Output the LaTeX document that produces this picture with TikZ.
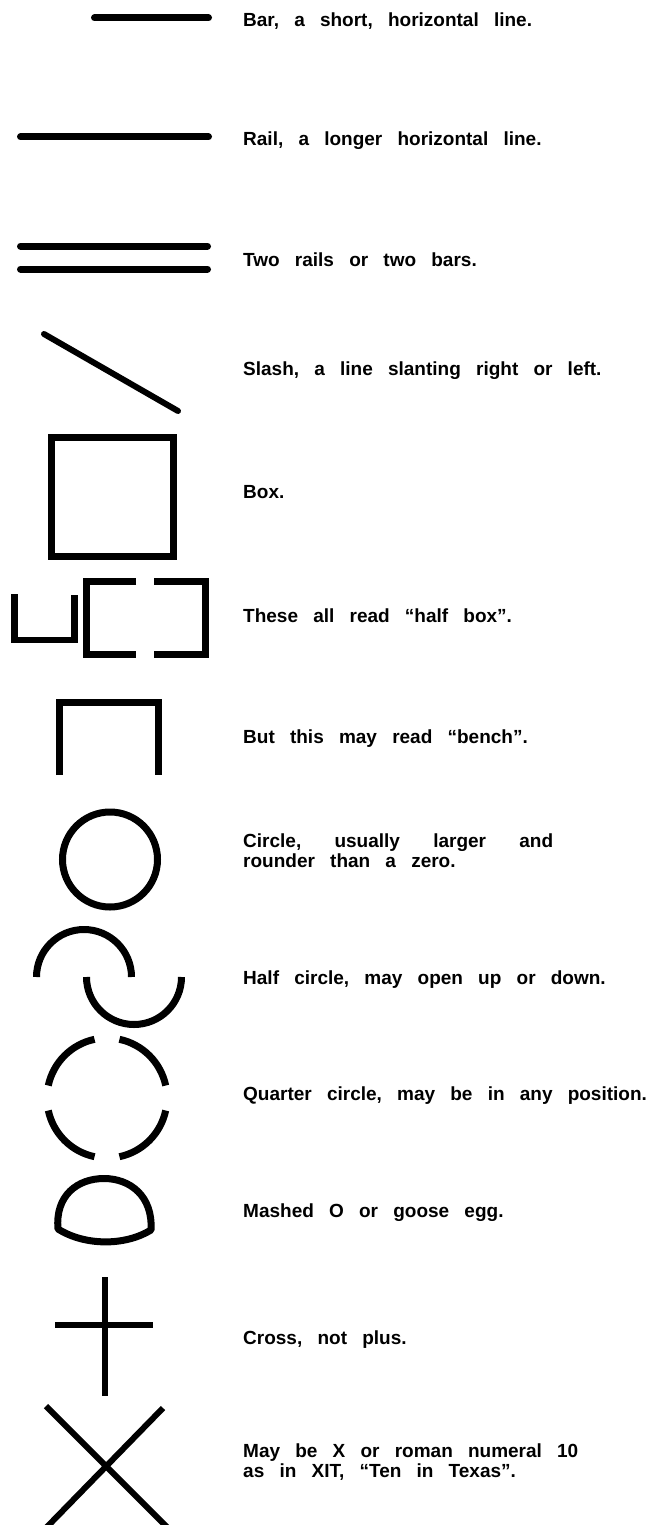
\documentclass[tikz,border=0pt]{standalone}
\usepackage{fontspec}
\setmainfont{Liberation Sans}
\newcommand\mylblfont{\fontsize{19}{19.5}\selectfont\bfseries\spaceskip=0.8em plus 0.3em\relax}
\begin{document}
\begin{tikzpicture}[x=1pt,y=-1pt,
  ink/.style={line width=7pt,black},
  thin/.style={line width=6pt,black},
  lbl/.style={anchor=base west,inner sep=0pt,font=\mylblfont,align=left}]
\useasboundingbox (0,0) rectangle (650,1525);
\clip (0,0) rectangle (650,1525);
% bars and rails
\draw[ink,line cap=round] (94.5,18) -- (208.5,18);
\draw[ink,line cap=round] (20.5,137) -- (208.5,137);
\draw[ink,line cap=round] (20.5,246) -- (207.5,246);
\draw[ink,line cap=round] (20.5,269) -- (207.5,269);
% slash
\draw[thin,line cap=round] (44,334) -- (178,411);
% box
\draw[ink] (51.5,437.5) rectangle (173.5,556.5);
% half boxes
\draw[line width=6.5pt] (14.5,594) -- (14.5,640) -- (74.5,640) -- (74.5,595);
\draw[ink] (136,581.5) -- (86.5,581.5) -- (86.5,654.5) -- (136,654.5);
\draw[ink] (154,581.5) -- (205.5,581.5) -- (205.5,654.5) -- (154,654.5);
% bench
\draw[ink] (59.5,775) -- (59.5,702.5) -- (158.5,702.5) -- (158.5,775);
% circle
\draw[ink] (110,859.5) circle[radius=47.5];
% half circles (y axis points down)
\draw[ink] (36.5,977) arc[start angle=180,end angle=360,radius=47.5];
\draw[ink] (86.5,977) arc[start angle=180,end angle=0,radius=47.5];
% quarter circles
\draw[ink] (107,1098) ++(12:60) arc[start angle=12,end angle=78,radius=60];
\draw[ink] (107,1098) ++(102:60) arc[start angle=102,end angle=168,radius=60];
\draw[ink] (107,1098) ++(192:60) arc[start angle=192,end angle=258,radius=60];
\draw[ink] (107,1098) ++(282:60) arc[start angle=282,end angle=348,radius=60];
% mashed O
\draw[ink,line join=round] (58,1229) .. controls (55,1195) and (78,1178.5) .. (104,1178.5)
  .. controls (130,1178.5) and (153,1196) .. (151,1230)
  .. controls (125,1246) and (85,1246) .. (58,1229) -- cycle;
% cross
\draw[thin] (104.5,1277) -- (104.5,1396);
\draw[thin] (55,1325) -- (153,1325);
% X
\draw[thin] (46,1406) -- (172,1532);
\draw[thin] (163,1408) -- (42,1532);
% labels
\node[lbl] (t1) at (243,27) {Bar, a short, horizontal line.};
\node[lbl] (t2) at (243,146) {Rail, a longer horizontal line.};
\node[lbl] (t3) at (243,266) {Two rails or two bars.};
\node[lbl] (t4) at (243,375) {Slash, a line slanting right or left.};
\node[lbl] (t5) at (243,498) {Box.};
\node[lbl] (t6) at (243,622) {These all read “half box”.};
\node[lbl] (t7) at (243,743) {But this may read “bench”.};
\node[lbl] (t8) at (243,867) {\hbox to 310pt{Circle,\hfil usually\hfil larger\hfil and}\\rounder than a zero.};
\node[lbl] (t9) at (243,984) {Half circle, may open up or down.};
\node[lbl] (t10) at (243,1100) {Quarter circle, may be in any position.};
\node[lbl] (t11) at (243,1217) {Mashed O or goose egg.};
\node[lbl] (t12) at (243,1344) {Cross, not plus.};
\node[lbl] (t13) at (243,1477) {May be X or roman numeral 10\\as in XIT, “Ten in Texas”.};
\end{tikzpicture}
\end{document}
